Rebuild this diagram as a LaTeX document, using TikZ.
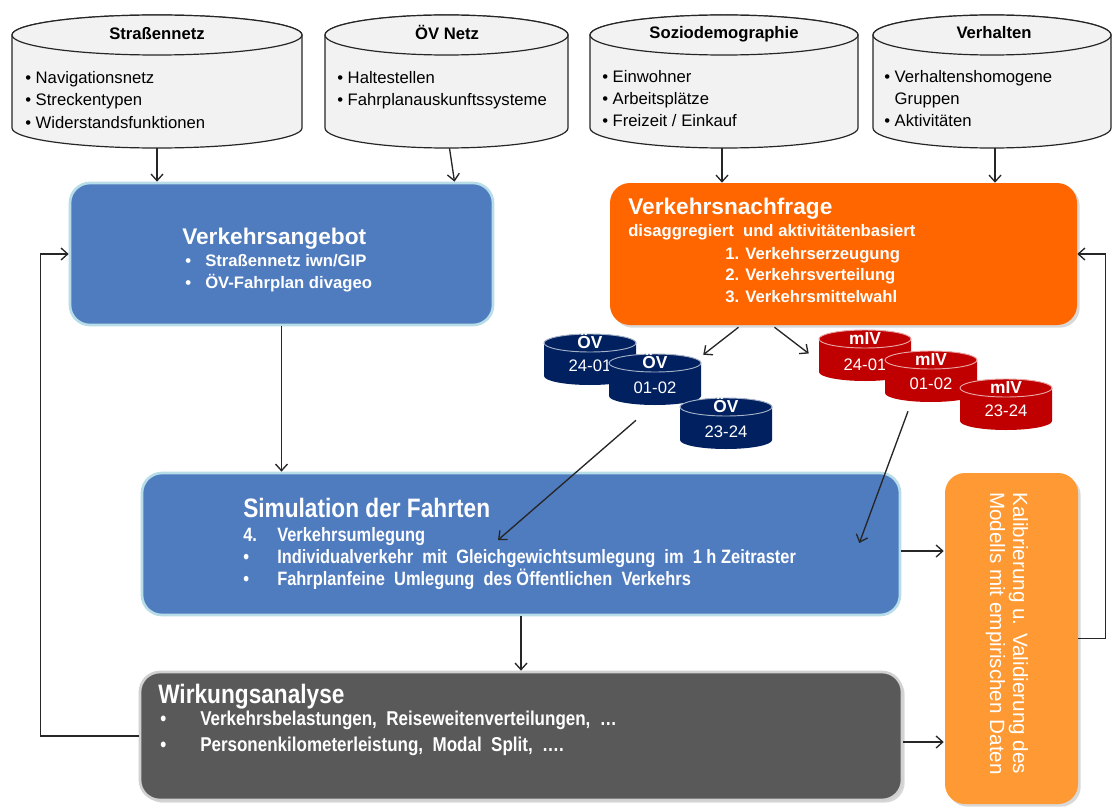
\documentclass[tikz,border=0pt]{standalone}
\usepackage{fontspec}
\setmainfont{Liberation Sans}
\newfontfamily\narrowfont[FakeStretch=0.85]{Liberation Sans}
\usetikzlibrary{arrows.meta,calc,shadows}
\definecolor{boxblue}{HTML}{4F7BBF}
\definecolor{boxedge}{HTML}{B7DEE8}
\definecolor{nforange}{HTML}{FF6600}
\definecolor{kalorange}{HTML}{FF9933}
\definecolor{navyov}{HTML}{002060}
\definecolor{redmiv}{HTML}{C00000}
\definecolor{wirkgray}{HTML}{595959}
\definecolor{cylfill}{HTML}{F2F2F2}
\newcommand\mycyl[8]{%
 \pgfmathsetmacro\cylL{#2-#4/2}%
 \pgfmathsetmacro\cylR{#2+#4/2}%
 \pgfmathsetmacro\cylT{#3+#6}%
 \pgfmathsetmacro\cylB{#3+#5-#6}%
 \pgfmathsetmacro\cylRX{#4*0.375}%
 \pgfmathsetmacro\cylRY{#6*0.75}%
 \pgfmathsetmacro\cylW{#4*0.75}%
 \pgfmathsetmacro\cylH{#5*0.75}%
 \pgfmathsetmacro\cylM{#3+#5/2}%
 \path[#7] (\cylL,\cylT) -- (\cylL,\cylB) arc[start angle=180,end angle=360,x radius=\cylRX pt,y radius=\cylRY pt] -- (\cylR,\cylT) arc[start angle=0,end angle=180,x radius=\cylRX pt,y radius=\cylRY pt] -- cycle;
 \path[#8] (#2,\cylT) ellipse[x radius=\cylRX pt,y radius=\cylRY pt];
 \node[inner sep=0pt,minimum width=\cylW pt,minimum height=\cylH pt] (#1) at (#2,\cylM) {};
}
\begin{document}
\begin{tikzpicture}[x=0.75pt,y=-0.75pt,
  bluebox/.style={draw=boxedge,line width=2pt,fill=boxblue,rounded corners=15pt,inner sep=0pt},
  orangebox/.style={fill=nforange,rounded corners=15pt,inner sep=0pt,drop shadow={shadow xshift=2pt,shadow yshift=-2pt,opacity=0.3}},
  graybox/.style={draw=black!18,line width=2pt,fill=wirkgray,rounded corners=15pt,inner sep=0pt,drop shadow={shadow xshift=2pt,shadow yshift=-2pt,opacity=0.3}},
  kalbox/.style={fill=kalorange,rounded corners=15pt,inner sep=0pt,drop shadow={shadow xshift=2pt,shadow yshift=-2pt,opacity=0.3}},
  cylbody/.style={fill=cylfill,draw=black!85,line width=0.9pt},
  ovbody/.style={fill=navyov},
  ovtop/.style={fill=navyov,draw=white!65!navyov,line width=0.7pt},
  mivbody/.style={fill=redmiv},
  mivtop/.style={fill=redmiv,draw=white!65!redmiv,line width=0.7pt},
  cyltitle/.style={inner sep=0pt,font=\bfseries\fontsize{12.5}{15}\selectfont},
  cyltext/.style={inner sep=0pt,anchor=base west,font=\fontsize{12.5}{15}\selectfont},
  hd/.style={inner sep=0pt,anchor=base west,text=white,font=\bfseries\fontsize{17}{20}\selectfont},
  bd/.style={inner sep=0pt,anchor=base west,text=white,font=\bfseries\fontsize{12.5}{15}\selectfont},
  nhd/.style={inner sep=0pt,anchor=base west,text=white,font=\narrowfont\bfseries\fontsize{20}{24}\selectfont},
  nbd/.style={inner sep=0pt,anchor=base west,text=white,font=\narrowfont\bfseries\fontsize{15}{18}\selectfont},
  nbds/.style={nbd,font=\narrowfont\bfseries\fontsize{14.5}{18}\selectfont},
  smallhd/.style={inner sep=0pt,anchor=base,text=white,font=\bfseries\fontsize{13}{15}\selectfont},
  smallnum/.style={inner sep=0pt,anchor=base,text=white,font=\fontsize{12.5}{15}\selectfont},
  kaltext/.style={inner sep=0pt,anchor=base west,rotate=-90,text=white,font=\fontsize{15.5}{18}\selectfont},
  arr/.style={draw=black!85,line width=1pt,-{Straight Barb[length=5pt,width=9pt]}}
]
\useasboundingbox (0,0) rectangle (1112,806);
\fill[white] (0,0) rectangle (1112,806);

% top data cylinders
\mycyl{cS}{157}{15}{290}{133}{20}{cylbody}{cylbody}
\mycyl{cO}{446.5}{15}{243}{133}{20}{cylbody}{cylbody}
\mycyl{cZ}{724}{15}{268}{133}{20}{cylbody}{cylbody}
\mycyl{cV}{992}{15}{238}{133}{20}{cylbody}{cylbody}

\node[cyltitle,anchor=base] (tS) at (157,40) {Straßennetz};
\node[cyltitle,anchor=base] (tO) at (447,40) {ÖV Netz};
\node[cyltitle,anchor=base] (tZ) at (724,39) {Soziodemographie};
\node[cyltitle,anchor=base] (tV) at (994,39) {Verhalten};

\node[cyltext] (s1) at (25,84) {• Navigationsnetz};
\node[cyltext] (s2) at (25,106) {• Streckentypen};
\node[cyltext] (s3) at (25,128) {• Widerstandsfunktionen};
\node[cyltext] (o1) at (337,84) {• Haltestellen};
\node[cyltext] (o2) at (337,106) {• Fahrplanauskunftssysteme};
\node[cyltext] (z1) at (602,83) {• Einwohner};
\node[cyltext] (z2) at (602,105) {• Arbeitsplätze};
\node[cyltext] (z3) at (602,127) {• Freizeit / Einkauf};
\node[cyltext] (v1) at (884,83) {• Verhaltenshomogene};
\node[cyltext] (v2) at (884,105) {\phantom{• }Gruppen};
\node[cyltext] (v3) at (884,127) {• Aktivitäten};

% main boxes
\node[bluebox,minimum width=317.25pt,minimum height=106.5pt] (angebot) at (281.5,254) {};
\node[orangebox,minimum width=350.25pt,minimum height=106.5pt] (nachfrage) at (843.5,254) {};
\node[bluebox,minimum width=568.5pt,minimum height=106.5pt] (simulation) at (521,544) {};
\node[graybox,minimum width=571.5pt,minimum height=96pt] (wirkung) at (521,736) {};
\node[kalbox,minimum width=99.75pt,minimum height=248.25pt] (kalib) at (1011.5,638.5) {};

% Verkehrsangebot text
\node[hd] (tAng) at (182,244) {Verkehrsangebot};
\node[bd] (a1) at (185,266) {\makebox[15pt][l]{•}Straßennetz iwn/GIP};
\node[bd] (a2) at (185,288) {\makebox[15pt][l]{•}ÖV-Fahrplan divageo};

% Verkehrsnachfrage text
\node[hd] (tNf) at (628,214) {Verkehrsnachfrage};
\node[bd] (n0) at (628,236) {disaggregiert\ \ und aktivitätenbasiert};
\node[bd] (n1) at (725,259) {1. Verkehrserzeugung};
\node[bd] (n2) at (725,280) {2. Verkehrsverteilung};
\node[bd] (n3) at (725,302) {3. Verkehrsmittelwahl};

% Simulation text
\node[nhd] (tSim) at (243,517) {Simulation der Fahrten};
\node[nbds] (m1) at (243,541) {\makebox[25.5pt][l]{4.}Verkehrsumlegung};
\node[nbds] (m2) at (243,563) {\makebox[25.5pt][l]{•}Individualverkehr\ \ mit\ \ Gleichgewichtsumlegung\ \ im\ \ 1 h Zeitraster};
\node[nbds] (m3) at (243,585) {\makebox[25.5pt][l]{•}Fahrplanfeine\ \ Umlegung\ \ des Öffentlichen\ \ Verkehrs};

% Wirkungsanalyse text
\node[nhd] (tWa) at (158,703) {Wirkungsanalyse};
\node[nbd] (w1) at (160,725) {\makebox[30pt][l]{•}Verkehrsbelastungen,\ \ Reiseweitenverteilungen,\ \ …};
\node[nbd] (w2) at (160,751) {\makebox[30pt][l]{•}Personenkilometerleistung,\ \ Modal\ \ Split,\ \ ….};

% Kalibrierung text
\node[kaltext] (k1) at (1013,492) {Kalibrierung u. Validierung des};
\node[kaltext] (k2) at (990,492) {Modells mit empirischen Daten};

% small cylinders
\mycyl{ov1}{590}{334}{92}{51}{9}{ovbody}{ovtop}
\node[smallhd] (ov1a) at (590,348) {ÖV};
\node[smallnum] (ov1b) at (590,371) {24-01};
\mycyl{ov2}{655}{354}{92}{51}{9}{ovbody}{ovtop}
\node[smallhd] (ov2a) at (655,368) {ÖV};
\node[smallnum] (ov2b) at (655,393) {01-02};
\mycyl{ov3}{726}{398}{92}{51}{9}{ovbody}{ovtop}
\node[smallhd] (ov3a) at (726,412) {ÖV};
\node[smallnum] (ov3b) at (726,437) {23-24};
\mycyl{miv1}{865}{330}{92}{51}{9}{mivbody}{mivtop}
\node[smallhd] (miv1a) at (865,344) {mIV};
\node[smallnum] (miv1b) at (865,370) {24-01};
\mycyl{miv2}{931}{351}{92}{51}{9}{mivbody}{mivtop}
\node[smallhd] (miv2a) at (931,365) {mIV};
\node[smallnum] (miv2b) at (931,389) {01-02};
\mycyl{miv3}{1006}{379}{92}{51}{9}{mivbody}{mivtop}
\node[smallhd] (miv3a) at (1006,393) {mIV};
\node[smallnum] (miv3b) at (1006,416) {23-24};

% connectors
\draw[arr] (cS.south) -- (cS.south |- angebot.north);
\draw[arr] ($(cO.south)+(3,0)$) -- ($(cO.south |- angebot.north)+(8,0)$);
\draw[arr] ($(cZ.south)+(-2,0)$) -- ($(cZ.south |- nachfrage.north)+(-2,0)$);
\draw[arr] ($(cV.south)+(3,0)$) -- ($(cV.south |- nachfrage.north)+(3,0)$);
\draw[arr] (angebot.south) -- (angebot.south |- simulation.north);
\draw[arr] ($(nachfrage.south)+(-105,2)$) -- ($(ov2.north east)+(2,1)$);
\draw[arr] ($(nachfrage.south)+(-69,2)$) -- ($(miv1.west)+(-10,-2)$);
\draw[arr] ($(ov2.south)+(-19,15)$) -- ($(simulation.center)+(-23,-4)$);
\draw[arr] ($(miv2.south)+(-23,9)$) -- ($(simulation.east)+(-42,-1)$);
\draw[arr] (simulation.south) -- (simulation.south |- wirkung.north);
\draw[arr] ($(simulation.east)+(0,7)$) -- ($(kalib.west |- simulation.east)+(-1,7)$);
\draw[arr] ($(wirkung.east)+(0,6)$) -- ($(kalib.west |- wirkung.east)+(-1,6)$);
\draw[arr] (kalib.east) -- ++(27,0) |- (nachfrage.east);
\draw[arr] (wirkung.west) -- ++(-98,0) |- (angebot.west);
\end{tikzpicture}
\end{document}
